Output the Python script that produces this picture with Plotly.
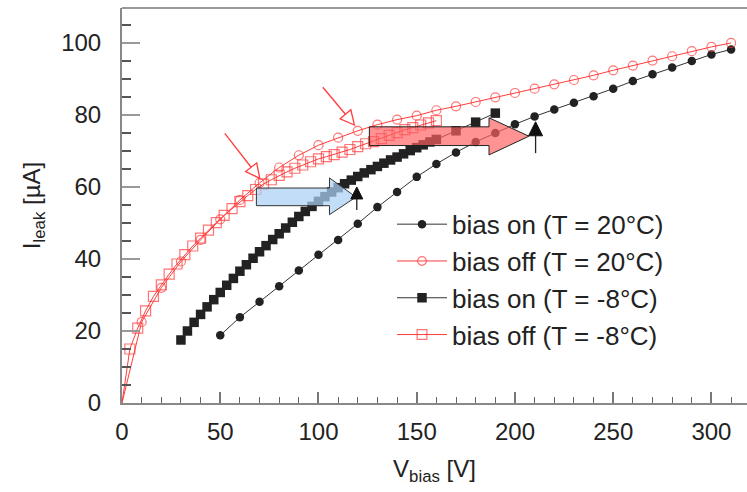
import math
import plotly.graph_objects as go

# ---------------- data ----------------
v_on20 = [50, 60, 70, 80, 90, 100, 110, 120, 130, 140, 150, 160, 170, 180, 190, 200,
          210, 220, 230, 240, 250, 260, 270, 280, 290, 300, 310]
i_on20 = [18.8, 23.8, 28.1, 32.4, 36.8, 41.2, 45.3, 49.8, 54.4, 58.6, 62.8, 66.4, 69.6,
          72.5, 75.0, 77.4, 79.6, 81.5, 83.4, 85.2, 87.3, 89.4, 91.3, 93.2, 95.0, 96.8, 98.2]

v_off20 = [0, 10, 20, 30, 40, 50, 60, 70, 80, 90, 100, 110, 120, 130, 140, 150, 160,
           170, 180, 190, 200, 210, 220, 230, 240, 250, 260, 270, 280, 290, 300, 310]
i_off20 = [0.0, 22.5, 32.0, 39.3, 45.3, 51.0, 56.4, 61.1, 65.4, 68.8, 71.6, 73.7, 75.6,
           77.3, 78.7, 79.8, 81.3, 82.4, 83.6, 84.9, 86.1, 87.3, 88.5, 89.7, 91.0, 92.4,
           93.7, 95.1, 96.3, 97.7, 98.9, 100.0]

v_on8 = [30, 33.3, 36.7, 40, 43.3, 46.7, 50, 53.3, 56.7, 60, 63.3, 66.7, 70, 73.3, 76.7,
         80, 83.3, 86.7, 90, 93.3, 96.7, 100, 103.3, 106.7, 110, 113.3, 116.7, 120, 123.3,
         126.7, 130, 133.3, 136.7, 140, 143.3, 146.7, 150, 153.3, 156.7, 160, 170, 180, 190]
i_on8 = [17.5, 20.0, 22.4, 24.6, 26.7, 28.7, 30.7, 32.7, 34.6, 36.6, 38.4, 40.2, 42.0,
         43.7, 45.4, 47.0, 48.6, 50.2, 51.8, 53.2, 54.6, 56.0, 57.3, 58.6, 59.8, 60.9,
         61.9, 62.9, 63.9, 64.8, 65.7, 66.6, 67.5, 68.3, 69.2, 70.1, 70.9, 71.7, 72.5,
         73.2, 75.6, 78.0, 80.5]

v_off8 = [0, 4, 8, 12, 16, 20, 24, 28, 32, 36, 40, 44, 48, 52, 56, 60, 64, 68, 72, 76, 80,
          84, 88, 92, 96, 100, 104, 108, 112, 116, 120, 124, 128, 132, 136, 140, 144, 148,
          152, 156, 160]
i_off8 = [0.0, 15.0, 20.8, 25.6, 29.6, 32.8, 35.8, 38.6, 41.2, 43.6, 45.8, 48.0, 50.1,
          52.1, 54.0, 55.9, 57.6, 59.3, 60.8, 62.0, 63.2, 64.2, 65.2, 66.1, 67.0, 67.8,
          68.4, 69.0, 69.7, 70.4, 71.2, 72.0, 72.6, 73.4, 74.3, 75.1, 75.9, 76.5, 77.2,
          77.8, 78.4]

series_names = ["bias on (T = 20°C)", "bias off (T = 20°C)",
                "bias on (T = -8°C)", "bias off (T = -8°C)"]

x_ticks = [0, 50, 100, 150, 200, 250, 300]
y_ticks = [0, 20, 40, 60, 80, 100]

# annotation geometry (data units)
blue_arrow = dict(x0=68.4, x1=105.6, x2=119.1, ylo=54.8, yhi=59.7, hlo=52.3, hhi=62.5, ytip=57.2)
red_arrow = dict(x0=125.9, x1=186.8, x2=207.1, ylo=71.5, yhi=76.7, hlo=68.9, hhi=79.2, ytip=74.1)
black_arrows = [((119.5, 53.6), (119.5, 60.0), 12, 6), ((210.5, 69.4), (210.5, 78.1), 14, 7)]
hollow_arrows = [((52.3, 74.9), (70.1, 62.4)), ((102.2, 87.7), (118.3, 77.2))]

# ---------------- layout geometry ----------------
W, H = 747, 492
ML, MR, MT, MB = 122, 0, 8, 89
XR = [0, 318.1]
YR = [0, 109.7]
sx = (W - ML - MR) / (XR[1] - XR[0])
sy = (H - MT - MB) / (YR[1] - YR[0])


def to_px(x, y):
    return ML + (x - XR[0]) * sx, (H - MB) - (y - YR[0]) * sy


def to_data(px, py):
    return XR[0] + (px - ML) / sx, YR[0] + ((H - MB) - py) / sy


RED = "#ff3b3b"
BLK = "#222222"
FONT = "Liberation Sans, Arial, sans-serif"

fig = go.Figure()

off_sizes20 = [0] + [9] * (len(v_off20) - 1)
off_sizes8 = [0] + [10] * (len(v_off8) - 1)

fig.add_trace(go.Scatter(x=v_on20, y=i_on20, name=series_names[0], mode="lines+markers",
                         line=dict(color="#333", width=1),
                         marker=dict(symbol="circle", size=8.5, color=BLK)))
fig.add_trace(go.Scatter(x=v_off20, y=i_off20, name=series_names[1], mode="lines+markers",
                         line=dict(color=RED, width=1),
                         marker=dict(symbol="circle-open", size=off_sizes20, color=RED,
                                     line=dict(width=1.2, color=RED))))
fig.add_trace(go.Scatter(x=v_on8, y=i_on8, name=series_names[2], mode="lines+markers",
                         line=dict(color="#333", width=1),
                         marker=dict(symbol="square", size=9.5, color=BLK)))
fig.add_trace(go.Scatter(x=v_off8, y=i_off8, name=series_names[3], mode="lines+markers",
                         line=dict(color=RED, width=1),
                         marker=dict(symbol="square-open", size=off_sizes8, color=RED,
                                     line=dict(width=1.2, color=RED))))

shapes = []


def block_path(a):
    pts = [(a["x0"], a["ylo"]), (a["x1"], a["ylo"]), (a["x1"], a["hlo"]),
           (a["x2"], a["ytip"]), (a["x1"], a["hhi"]), (a["x1"], a["yhi"]),
           (a["x0"], a["yhi"])]
    return "M " + " L ".join(f"{x},{y}" for x, y in pts) + " Z"


shapes.append(dict(type="path", xref="x", yref="y", path=block_path(blue_arrow),
                   fillcolor="rgba(170,208,245,0.72)", line=dict(color="#333", width=1),
                   layer="above"))
shapes.append(dict(type="path", xref="x", yref="y", path=block_path(red_arrow),
                   fillcolor="rgba(255,95,95,0.68)", line=dict(color="#222", width=1),
                   layer="above"))


def tri_path(tail, tip, L, w):
    tx, ty = to_px(*tail)
    px, py = to_px(*tip)
    dx, dy = px - tx, py - ty
    n = math.hypot(dx, dy)
    dx, dy = dx / n, dy / n
    bx, by = px - L * dx, py - L * dy
    nx, ny = -dy, dx
    p1 = to_data(px, py)
    p2 = to_data(bx + w * nx, by + w * ny)
    p3 = to_data(bx - w * nx, by - w * ny)
    base = to_data(bx, by)
    path = f"M {p1[0]},{p1[1]} L {p2[0]},{p2[1]} L {p3[0]},{p3[1]} Z"
    return path, base


for tail, tip, L, w in black_arrows:
    path, base = tri_path(tail, tip, L, w)
    shapes.append(dict(type="line", xref="x", yref="y", x0=tail[0], y0=tail[1],
                       x1=base[0], y1=base[1], line=dict(color="#222", width=1.3),
                       layer="above"))
    shapes.append(dict(type="path", xref="x", yref="y", path=path, fillcolor="#111",
                       line=dict(color="#111", width=1), layer="above"))

for tail, tip in hollow_arrows:
    path, base = tri_path(tail, tip, 14, 7)
    shapes.append(dict(type="line", xref="x", yref="y", x0=tail[0], y0=tail[1],
                       x1=base[0], y1=base[1], line=dict(color=RED, width=1.3),
                       layer="above"))
    shapes.append(dict(type="path", xref="x", yref="y", path=path, fillcolor="white",
                       line=dict(color=RED, width=1.3), layer="above"))

# top frame line
shapes.append(dict(type="line", xref="paper", yref="paper", x0=0, x1=1, y0=1, y1=1,
                   line=dict(color="#999", width=2)))

fig.update_layout(
    width=W, height=H,
    margin=dict(l=ML, r=MR, t=MT, b=MB),
    paper_bgcolor="white", plot_bgcolor="white",
    font=dict(family=FONT, color="#222", size=24),
    shapes=shapes,
    showlegend=True,
    legend=dict(x=0.432, y=0.512, xanchor="left", yanchor="top",
                bgcolor="rgba(0,0,0,0)", borderwidth=0,
                font=dict(size=26, family=FONT, color="#222"),
                itemwidth=50, tracegroupgap=0),
)

fig.update_xaxes(range=XR, tickvals=x_ticks, ticktext=[str(v) for v in x_ticks],
                 ticks="inside", ticklen=11, tickwidth=1.5, tickcolor="#777",
                 minor=dict(dtick=10, ticks="inside", ticklen=6, tickcolor="#666", tickwidth=1),
                 showline=True, linecolor="#888", linewidth=2, showgrid=False, zeroline=False,
                 tickfont=dict(size=24, family=FONT, color="#222"), ticklabelstandoff=6,
                 title=dict(text="V<sub>bias</sub> [V]", font=dict(size=24, family=FONT),
                            standoff=16))
fig.update_yaxes(range=YR, tickvals=y_ticks, ticktext=[str(v) for v in y_ticks],
                 ticks="inside", ticklen=18, tickwidth=2, tickcolor="#999",
                 minor=dict(dtick=5, ticks="inside", ticklen=9, tickcolor="#555", tickwidth=1.5),
                 showline=True, linecolor="#888", linewidth=2, showgrid=False, zeroline=False,
                 tickfont=dict(size=24, family=FONT, color="#222"), ticklabelstandoff=14,
                 title=dict(text="I<sub>leak</sub> [µA]", font=dict(size=24, family=FONT),
                            standoff=14))

fig.write_html("out.html")
